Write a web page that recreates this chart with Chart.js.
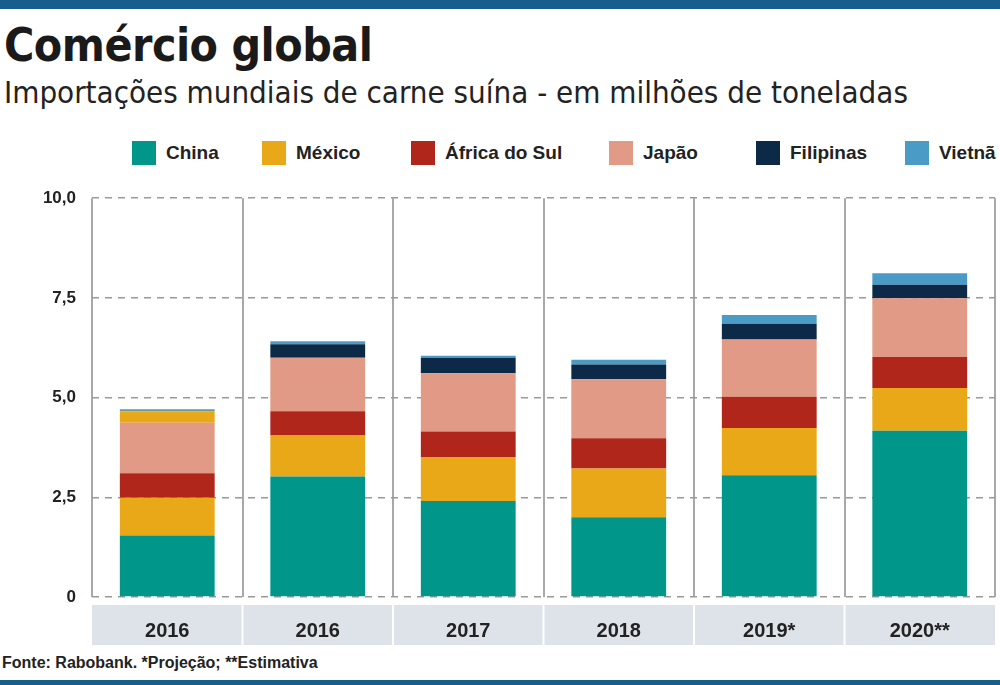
<!DOCTYPE html>
<html><head><meta charset="utf-8">
<script src="https://cdn.jsdelivr.net/npm/chart.js@4"></script>
<style>
body{margin:0;width:1000px;height:685px;background:#fff;position:relative;overflow:hidden;font-family:'Liberation Sans Narrow','DejaVu Sans Condensed',sans-serif}
.bar{position:absolute;left:0;width:1000px;background:#175e8c}
#t{position:absolute;left:4px;top:18px;font:bold 46px 'Liberation Sans Narrow','DejaVu Sans Condensed',sans-serif;color:#1a1a1a;letter-spacing:-0.5px}
#s{position:absolute;left:4px;top:74px;font:31px 'Liberation Sans Narrow','DejaVu Sans Condensed',sans-serif;color:#222}
#lg{position:absolute;top:141px;left:0;width:1000px;height:28px;font:bold 19px 'Liberation Sans Narrow',sans-serif;color:#222}
#lg span{position:absolute;display:flex;align-items:center}
#lg i{display:inline-block;width:24px;height:24px;margin-right:10px}
#f{position:absolute;left:2px;top:654px;font:bold 16px 'Liberation Sans Narrow',sans-serif;color:#222}
#c{position:absolute;left:0;top:172px}
</style></head><body>
<div class="bar" style="top:0;height:9px"></div>
<div id="t">Comércio global</div>
<div id="s">Importações mundiais de carne suína - em milhões de toneladas</div>
<div id="lg"></div>
<div id="c"><canvas id="cv" width="1000" height="473" style="width:1000px;height:473px"></canvas></div>
<div id="f">Fonte: Rabobank. *Projeção; **Estimativa</div>
<div class="bar" style="top:680px;height:5px"></div>
<script>
const categories=['2016','2016','2017','2018','2019*','2020**'];
const china=[1.54,3.02,2.41,2.0,3.05,4.17];
const mexico=[0.95,1.03,1.1,1.22,1.19,1.07];
const africa=[0.61,0.61,0.64,0.76,0.78,0.78];
const japao=[1.27,1.34,1.46,1.48,1.44,1.47];
const filipinas=[0.29,0.34,0.39,0.37,0.39,0.34];
const vietna=[0.05,0.07,0.05,0.12,0.22,0.29];
const yTicks=[0,2.5,5,7.5,10];
const names=['China','México','África do Sul','Japão','Filipinas','Vietnã'];
const colors=['#00978a','#e8a817','#b0261a','#e09a85','#0c2a47','#4a9cc6'];
const legX=[132,262,411,609,756,905];
const lg=document.getElementById('lg');
names.forEach((n,i)=>{const s=document.createElement('span');s.style.left=legX[i]+'px';s.innerHTML='<i style="background:'+colors[i]+'"></i>'+n;lg.appendChild(s);});
const series=[china,mexico,africa,japao,filipinas,vietna];
const filColors=categories.map((c,i)=>i===0?colors[1]:colors[4]);
const vieColors=categories.map((c,i)=>i===0?'#6a9a94':colors[5]);
const band={id:'band',beforeDraw(ch){const c=ch.ctx,a=ch.chartArea;c.save();c.fillStyle='#dde3e8';c.fillRect(a.left,a.bottom+8,a.right-a.left,40);
const x=ch.scales.x;c.fillStyle='#fff';for(let i=1;i<categories.length;i++){const p=(x.getPixelForValue(i-1)+x.getPixelForValue(i))/2;c.fillRect(p-1,a.bottom+8,2,40);}c.restore();}};
new Chart(document.getElementById('cv'),{type:'bar',
data:{labels:categories,datasets:series.map((d,i)=>({label:names[i],data:d,backgroundColor:i===4?filColors:(i===5?vieColors:colors[i]),borderWidth:0,barPercentage:0.63,categoryPercentage:1}))},
options:{responsive:false,animation:false,layout:{padding:{top:0,right:5,left:0,bottom:0}},
plugins:{legend:{display:false},tooltip:{enabled:false}},
scales:{x:{stacked:true,offset:true,grid:{offset:true,color:'#a8a8a8',lineWidth:2,drawTicks:false},border:{display:false},
ticks:{color:'#222',font:{family:"'Liberation Sans Narrow',sans-serif",size:20,weight:'bold'},padding:22},afterFit(s){s.height=48;}},
y:{stacked:true,min:0,max:10,afterBuildTicks(s){s.ticks=yTicks.map(v=>({value:v}));},
grid:{color:'#999',lineWidth:1.5,drawTicks:false},border:{display:false,dash:[7,6]},
ticks:{padding:16,color:'#222',font:{family:"'Liberation Sans Narrow',sans-serif",size:17,weight:'bold'},callback:v=>v===0?'0':v.toFixed(1).replace('.',',')},
afterFit(s){s.width=92;}}}},
plugins:[band]});
</script></body></html>
